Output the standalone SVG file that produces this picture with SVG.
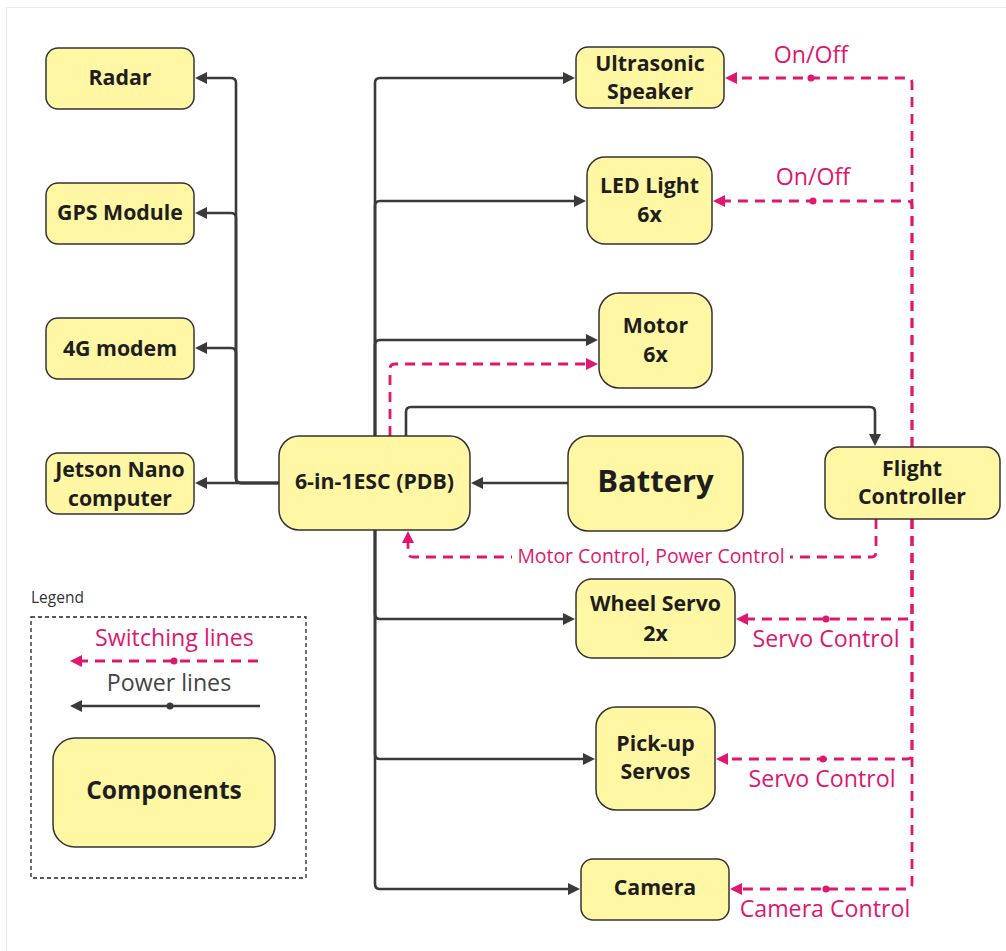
<svg xmlns="http://www.w3.org/2000/svg" width="1006" height="951" viewBox="0 0 1006 951">
<style>
.node rect{fill:#FFF7A3;stroke:#333333;stroke-width:1.5}
.node text{font-family:"Open Sans","Noto Sans",sans-serif;font-weight:700;font-size:21.3px;fill:#1e1e1e;text-anchor:middle}
.pw{fill:none;stroke:#3a3a3a;stroke-width:2.6;marker-end:url(#ap)}
.sw{fill:none;stroke:#E0176F;stroke-width:2.8;stroke-dasharray:10 7;marker-end:url(#as)}
.lbl{font-family:"Open Sans","Noto Sans",sans-serif;font-size:23.2px;fill:#E0176F;text-anchor:middle}
.dotp{fill:#E0176F}
.dotk{fill:#3a3a3a}
</style>
<defs>
<marker id="ap" viewBox="0 0 12 12" markerWidth="12" markerHeight="12" refX="1" refY="6" orient="auto" markerUnits="userSpaceOnUse"><path d="M0,0 L12,6 L0,12 z" fill="#3a3a3a"/></marker>
<marker id="as" viewBox="0 0 12 12" markerWidth="12" markerHeight="12" refX="1" refY="6" orient="auto" markerUnits="userSpaceOnUse"><path d="M0,0 L12,6 L0,12 z" fill="#E0176F"/></marker>
</defs>
<rect x="0" y="0" width="1006" height="951" fill="#ffffff"/>
<rect x="6.5" y="7.5" width="1010" height="970" fill="none" stroke="#ebebeb" stroke-width="1"/>

<g id="connectors">
  <!-- power lines -->
  <path class="pw" d="M279,483 H206"/>
  <path class="pw" d="M279,483 H241 Q236,483 236,478 V353 Q236,348 231,348 H206"/>
  <path class="pw" d="M279,483 H241 Q236,483 236,478 V218 Q236,213 231,213 H206"/>
  <path class="pw" d="M279,483 H241 Q236,483 236,478 V83 Q236,78 231,78 H206"/>
  <path class="pw" d="M375,436 V83 Q375,78 380,78 H564"/>
  <path class="pw" d="M375,436 V206 Q375,201 380,201 H575"/>
  <path class="pw" d="M375,436 V345 Q375,340 380,340 H587"/>
  <path class="pw" d="M375,530 V614 Q375,619 380,619 H564"/>
  <path class="pw" d="M375,530 V754 Q375,759 380,759 H584"/>
  <path class="pw" d="M375,530 V884 Q375,889 380,889 H569"/>
  <path class="pw" d="M406,436 V412 Q406,407 411,407 H870 Q875,407 875,412 V435"/>
  <path class="pw" d="M568,483 H482"/>
  <!-- switching lines -->
  <path class="sw" d="M390,436 V369 Q390,364 395,364 H587"/>
  <path class="sw" d="M876,519 V552 Q876,557 871,557 H413 Q408,557 408,552 V542"/>
  <path class="sw" d="M912,447 V83 Q912,78 907,78 H736"/>
  <path class="sw" d="M912,447 V206 Q912,201 907,201 H724"/>
  <path class="sw" d="M912,519 V614 Q912,619 907,619 H747"/>
  <path class="sw" d="M912,519 V754 Q912,759 907,759 H727"/>
  <path class="sw" d="M912,519 V884 Q912,889 907,889 H741"/>
  <circle class="dotp" cx="811" cy="78" r="3.5"/>
  <circle class="dotp" cx="813" cy="201" r="3.5"/>
  <circle class="dotp" cx="826" cy="619" r="3.5"/>
  <circle class="dotp" cx="823" cy="759" r="3.5"/>
  <circle class="dotp" cx="826" cy="889" r="3.5"/>
  <text class="lbl" x="811" y="63">On/Off</text>
  <text class="lbl" x="813" y="185">On/Off</text>
  <text class="lbl" x="826" y="647">Servo Control</text>
  <text class="lbl" x="822" y="787">Servo Control</text>
  <text class="lbl" x="825" y="917">Camera Control</text>
  <rect x="512" y="544" width="278" height="26" fill="#ffffff"/>
  <text class="lbl" x="651" y="563" style="font-size:19.4px">Motor Control, Power Control</text>
</g>

<g id="radar" class="node"><rect x="46" y="48" width="148" height="61" rx="12"/><text x="120" y="85">Radar</text></g>
<g id="gps" class="node"><rect x="46" y="183" width="148" height="61" rx="12"/><text x="120" y="220">GPS Module</text></g>
<g id="modem" class="node"><rect x="46" y="318" width="148" height="61" rx="12"/><text x="120" y="356">4G modem</text></g>
<g id="jetson" class="node"><rect x="46" y="453" width="148" height="61" rx="12"/><text x="120" y="477">Jetson Nano</text><text x="120" y="506">computer</text></g>
<g id="esc" class="node"><rect x="279" y="436" width="191" height="94" rx="20"/><text x="374.5" y="489">6-in-1ESC (PDB)</text></g>
<g id="battery" class="node"><rect x="568" y="436" width="175" height="95" rx="20"/><text x="655.5" y="492" style="font-size:31px">Battery</text></g>
<g id="flight" class="node"><rect x="825" y="447" width="175" height="72" rx="14"/><text x="912" y="476">Flight</text><text x="912" y="504">Controller</text></g>
<g id="ultrasonic" class="node"><rect x="576" y="47" width="148" height="61" rx="12"/><text x="650" y="71">Ultrasonic</text><text x="650" y="99">Speaker</text></g>
<g id="led" class="node"><rect x="587" y="157" width="125" height="87" rx="18"/><text x="649.5" y="193">LED Light</text><text x="649.5" y="222">6x</text></g>
<g id="motor" class="node"><rect x="599" y="293" width="113" height="95" rx="20"/><text x="655.5" y="333">Motor</text><text x="655.5" y="362">6x</text></g>
<g id="wheel" class="node"><rect x="576" y="579" width="159" height="79" rx="16"/><text x="655.5" y="611">Wheel Servo</text><text x="655.5" y="641">2x</text></g>
<g id="pickup" class="node"><rect x="596" y="707" width="119" height="103" rx="20"/><text x="655.5" y="751">Pick-up</text><text x="655.5" y="779">Servos</text></g>
<g id="camera" class="node"><rect x="581" y="859" width="148" height="61" rx="12"/><text x="655" y="895">Camera</text></g>

<g id="legend">
  <text x="31" y="603" style="font-family:'Open Sans','Noto Sans',sans-serif;font-size:15.5px;fill:#333">Legend</text>
  <rect x="31" y="617" width="275" height="261" fill="none" stroke="#222" stroke-width="1.3" stroke-dasharray="4 3"/>
  <text class="lbl" x="174.5" y="646">Switching lines</text>
  <path class="sw" d="M258,661 H81"/>
  <circle class="dotp" cx="174" cy="661" r="3.5"/>
  <text x="169" y="691" style="font-family:'Open Sans','Noto Sans',sans-serif;font-size:23.2px;fill:#444;text-anchor:middle">Power lines</text>
  <path class="pw" d="M260,706 H81"/>
  <circle class="dotk" cx="170" cy="706" r="3.5"/>
  <g id="components" class="node"><rect x="53" y="738" width="222" height="109" rx="22"/><text x="164" y="799" style="font-size:24.6px">Components</text></g>
</g>
</svg>
